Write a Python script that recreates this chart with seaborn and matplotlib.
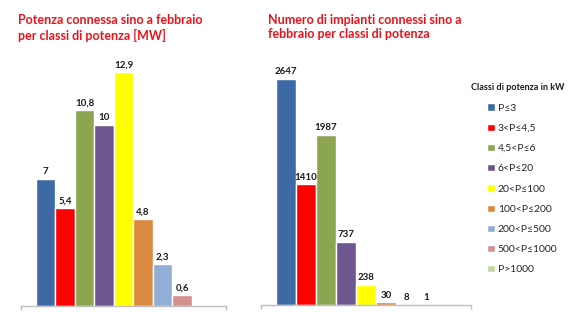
import matplotlib
matplotlib.use("Agg")
import matplotlib.pyplot as plt
import seaborn as sns
import pandas as pd

classi = ["P≤3", "3<P≤4,5", "4,5<P≤6", "6<P≤20", "20<P≤100",
          "100<P≤200", "200<P≤500", "500<P≤1000", "P>1000"]
colori = ["#3D6AA5", "#FF0000", "#8BA550", "#6E5791", "#FFFF00",
          "#DC8940", "#93AED6", "#D69090", "#C4D79E"]
potenza_mw = [7, 5.4, 10.8, 10, 12.9, 4.8, 2.3, 0.6]
impianti = [2647, 1410, 1987, 737, 238, 30, 8, 1]

titolo_sx = "Potenza connessa sino a febbraio\nper classi di potenza [MW]"
titolo_dx = "Numero di impianti connessi sino a\nfebbraio per classi di potenza"
titolo_legenda = "Classi di potenza in kW"

sns.set_theme(style="white")
plt.rcParams["font.family"] = ["Lato", "DejaVu Sans"]

df_sx = pd.DataFrame({"g": ["a"] * len(potenza_mw), "classe": classi[:len(potenza_mw)], "v": potenza_mw})
df_dx = pd.DataFrame({"g": ["a"] * len(impianti), "classe": classi[:len(impianti)], "v": impianti})

fig = plt.figure(figsize=(5.7, 3.22), dpi=100)
ax1 = fig.add_axes([21 / 570, 16 / 322, 205 / 570, 254 / 322])
ax2 = fig.add_axes([261 / 570, 17 / 322, 210 / 570, 256.5 / 322])

pal = dict(zip(classi, colori))


def fmt(v):
    if float(v).is_integer():
        return str(int(v))
    return f"{v:.1f}".replace(".", ",")


for ax, df, ymax in [(ax1, df_sx, 14), (ax2, df_dx, 3000)]:
    sns.barplot(data=df, x="g", y="v", hue="classe", hue_order=classi,
                palette=pal, dodge=True, width=0.8, saturation=1,
                legend=True, ax=ax, errorbar=None)
    for c in ax.containers:
        if len(c.datavalues):
            ax.bar_label(c, labels=[fmt(v) for v in c.datavalues], padding=2,
                         fontsize=7, fontweight="bold", color="#1a1a1a")
    ax.set_xlim(-0.467, 0.467)
    ax.set_ylim(0, ymax)
    for s in ["top", "right", "left"]:
        ax.spines[s].set_visible(False)
    ax.spines["bottom"].set_color("#BFBFBF")
    ax.spines["bottom"].set_linewidth(1)
    ax.set_xticks([-0.467, 0.467])
    ax.set_xticklabels([])
    ax.tick_params(axis="x", direction="out", length=3, width=1, color="#BFBFBF", bottom=True)
    ax.set_yticks([])
    ax.set_xlabel("")
    ax.set_ylabel("")
    ax.set_facecolor("none")

handles, labels = ax2.get_legend_handles_labels()
ax1.get_legend().remove()
ax2.get_legend().remove()

fig.text(471 / 570, 1 - 87 / 322, titolo_legenda, fontsize=6.5, fontweight="bold",
         va="center", ha="left", color="#1a1a1a")
fig.legend(handles, labels, loc="upper left", bbox_to_anchor=(478 / 570, 1 - 94 / 322),
           frameon=False, fontsize=7.5,
           handlelength=0.7, handleheight=0.7, handletextpad=0.3,
           labelspacing=1.05)

fig.text(18 / 570, 1 - 14 / 322, titolo_sx, color="#E8141C", fontsize=9,
         fontweight="bold", va="top", ha="left", linespacing=1.25)
fig.text(268 / 570, 1 - 14 / 322, titolo_dx, color="#E8141C", fontsize=9,
         fontweight="bold", va="top", ha="left", linespacing=1.25)

fig.savefig("out.png", dpi=100, facecolor="white")
